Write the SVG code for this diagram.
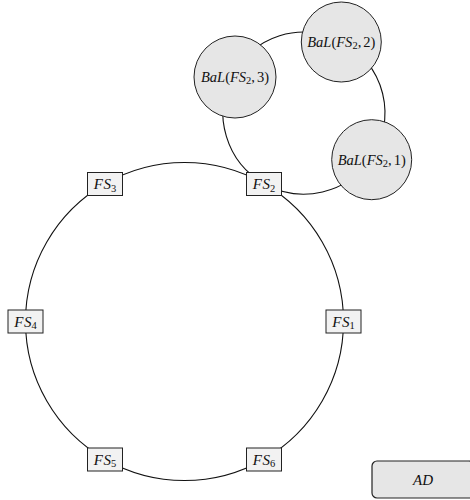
<svg xmlns="http://www.w3.org/2000/svg" width="470" height="500" viewBox="0 0 470 500">
<style>
.lbl{font-family:"Liberation Serif","DejaVu Serif",serif;font-style:italic;font-size:15px;fill:#111;text-anchor:middle;dominant-baseline:central}
.bl{font-size:14.5px}
.up{font-style:normal}
.sub{font-style:normal;font-size:10.5px}
.fs{fill:#f2f2f2;stroke:#222;stroke-width:1}
.bal{fill:#e6e6e6;stroke:#222;stroke-width:1}
.edge{fill:none;stroke:#111;stroke-width:1.1}
</style>
<rect width="470" height="500" fill="#fff"/>
<g id="connectors">
<path class="edge" d="M343.5,321.5 A159,159 0 0 1 264,459.2"/>
<path class="edge" d="M264,459.2 A159,159 0 0 1 105,459.2"/>
<path class="edge" d="M105,459.2 A159,159 0 0 1 25.5,321.5"/>
<path class="edge" d="M25.5,321.5 A159,159 0 0 1 105,183.8"/>
<path class="edge" d="M105,183.8 A159,159 0 0 1 264,183.8"/>
<path class="edge" d="M264,183.8 A159,159 0 0 1 343.5,321.5"/>
<path class="edge" d="M232.1,75.6 A81,81 0 0 1 341.4,41.2"/>
<path class="edge" d="M341.4,41.2 A81,81 0 0 1 370.7,159"/>
<path class="edge" d="M370.7,159 A81,81 0 0 1 264.7,183.9"/>
<path class="edge" d="M264.7,183.9 A81,81 0 0 1 232.1,75.6"/>
</g>
<g id="FS1"><rect class="fs" x="326" y="310" width="35" height="23"/><text class="lbl" x="343.5" y="321.5">F<tspan dx="0.5">S</tspan><tspan class="sub" dy="3.5">1</tspan></text></g>
<g id="FS2"><rect class="fs" x="246.5" y="172.5" width="35" height="23"/><text class="lbl" x="264" y="184">F<tspan dx="0.5">S</tspan><tspan class="sub" dy="3.5">2</tspan></text></g>
<g id="FS3"><rect class="fs" x="87.5" y="172.5" width="35" height="23"/><text class="lbl" x="105" y="184">F<tspan dx="0.5">S</tspan><tspan class="sub" dy="3.5">3</tspan></text></g>
<g id="FS4"><rect class="fs" x="8" y="310" width="35" height="23"/><text class="lbl" x="25.5" y="321.5">F<tspan dx="0.5">S</tspan><tspan class="sub" dy="3.5">4</tspan></text></g>
<g id="FS5"><rect class="fs" x="87.5" y="448" width="35" height="23"/><text class="lbl" x="105" y="459.5">F<tspan dx="0.5">S</tspan><tspan class="sub" dy="3.5">5</tspan></text></g>
<g id="FS6"><rect class="fs" x="246.5" y="448" width="35" height="23"/><text class="lbl" x="264" y="459.5">F<tspan dx="0.5">S</tspan><tspan class="sub" dy="3.5">6</tspan></text></g>
<g id="BaL1"><circle class="bal" cx="371.7" cy="159.7" r="40"/><text class="lbl bl" x="371.7" y="159.7">BaL<tspan class="up">(</tspan>FS<tspan class="sub" dy="3">2</tspan><tspan class="up" dy="-3">,</tspan><tspan class="up" dx="2">1)</tspan></text></g>
<g id="BaL2"><circle class="bal" cx="341.3" cy="42" r="40"/><text class="lbl bl" x="341.3" y="42">BaL<tspan class="up">(</tspan>FS<tspan class="sub" dy="3">2</tspan><tspan class="up" dy="-3">,</tspan><tspan class="up" dx="2">2)</tspan></text></g>
<g id="BaL3"><circle class="bal" cx="235" cy="77" r="41"/><text class="lbl bl" x="235" y="77">BaL<tspan class="up">(</tspan>FS<tspan class="sub" dy="3">2</tspan><tspan class="up" dy="-3">,</tspan><tspan class="up" dx="2">3)</tspan></text></g>
<g id="AD"><rect x="372" y="461" width="102" height="37" rx="5" fill="#e6e6e6" stroke="#222" stroke-width="1.2"/><text class="lbl" x="423" y="479.5">AD</text></g>
</svg>
